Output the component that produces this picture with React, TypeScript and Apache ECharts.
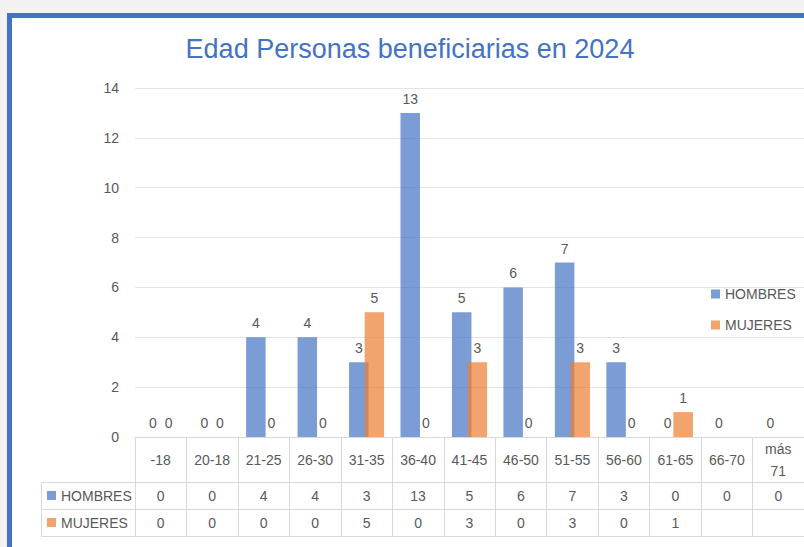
import React, { useEffect, useRef } from "react";
import * as echarts from "echarts";

const categories = ["-18", "20-18", "21-25", "26-30", "31-35", "36-40", "41-45", "46-50", "51-55", "56-60", "61-65", "66-70", "más\n71"];
const hombres: (number | null)[] = [0, 0, 4, 4, 3, 13, 5, 6, 7, 3, 0, 0, 0];
const mujeres: (number | null)[] = [0, 0, 0, 0, 5, 0, 3, 0, 3, 0, 1, null, null];
const seriesNames = ["HOMBRES", "MUJERES"];
const yTicks = { min: 0, max: 14, interval: 2 };

const BLUE = "#4472C4";
const BLUE_A = "rgba(68,114,196,0.7)";
const ORANGE_A = "rgba(237,125,49,0.7)";
const TEXT = "#595959";
const LINE = "#d9d9d9";
const FONT = "'Liberation Sans', Arial, sans-serif";

const fmt = (v: number | null) => (v === null || v === undefined ? "" : String(v));

export default function App() {
  const ref = useRef<HTMLDivElement>(null);
  useEffect(() => {
    if (!ref.current) return;
    const chart = echarts.init(ref.current, undefined, { renderer: "svg" });
    const tableAxis = (offset: number, tickLen: number, values: (number | null)[] | null, margin: number, showLabel = true, showTick = true) => ({
      type: "category",
      data: categories,
      position: "bottom",
      offset,
      axisLine: { show: true, lineStyle: { color: LINE, width: 1 } },
      axisTick: { show: showTick, interval: 0, length: tickLen, lineStyle: { color: LINE, width: 1 } },
      axisLabel: {
        show: showLabel,
        interval: 0,
        margin,
        verticalAlign: "middle",
        color: TEXT,
        fontSize: 14,
        fontFamily: FONT,
        lineHeight: 22,
        formatter: values ? (_v: string, i: number) => fmt(values[i]) : undefined,
      },
      splitLine: { show: false },
    });
    const barLabel = { show: true, position: "top", distance: 7, color: TEXT, fontSize: 14, fontFamily: FONT };
    const option: any = {
      animation: false,
      textStyle: { fontFamily: FONT },
      grid: { left: 135, top: 88, width: 672, height: 349, containLabel: false },
      legend: {
        orient: "vertical",
        left: 711,
        top: 287,
        padding: 0,
        itemWidth: 9,
        itemHeight: 9,
        itemGap: 17,
        icon: "rect",
        textStyle: { color: TEXT, fontSize: 14, fontFamily: FONT },
        data: seriesNames,
      },
      xAxis: [
        tableAxis(0, 45, null, 23),
        tableAxis(45, 27, hombres, 14),
        tableAxis(72, 27, mujeres, 14),
        tableAxis(99, 0, null, 0, false, false),
      ],
      yAxis: {
        type: "value",
        min: yTicks.min,
        max: yTicks.max,
        interval: yTicks.interval,
        axisLine: { show: false },
        axisTick: { show: false },
        axisLabel: { margin: 16, color: TEXT, fontSize: 14, fontFamily: FONT },
        splitLine: { lineStyle: { color: "#e4e4e4", width: 1 } },
      },
      series: [
        {
          name: seriesNames[0],
          type: "bar",
          xAxisIndex: 0,
          data: hombres,
          barWidth: 19.5,
          barGap: "-20%",
          itemStyle: { color: BLUE_A },
          label: barLabel,
        },
        {
          name: seriesNames[1],
          type: "bar",
          xAxisIndex: 0,
          data: mujeres,
          barWidth: 19.5,
          barGap: "-20%",
          itemStyle: { color: ORANGE_A },
          label: barLabel,
        },
      ],
      graphic: [
        { type: "rect", z: -100, silent: true, shape: { x: 0, y: 0, width: 804, height: 547 }, style: { fill: "#f2f2f2" } },
        { type: "rect", z: -99, silent: true, shape: { x: 12, y: 18, width: 800, height: 540 }, style: { fill: "#ffffff" } },
        { type: "rect", z: -98, silent: true, shape: { x: 7, y: 13, width: 800, height: 5 }, style: { fill: BLUE } },
        { type: "rect", z: -98, silent: true, shape: { x: 7, y: 13, width: 5, height: 540 }, style: { fill: BLUE } },
        {
          type: "text",
          z: 10,
          x: 410,
          y: 49,
          style: { text: "Edad Personas beneficiarias en 2024", fill: BLUE, fontSize: 27, fontFamily: FONT, align: "center", verticalAlign: "middle" },
        },
        { type: "line", z: 10, shape: { x1: 41, y1: 482.5, x2: 135, y2: 482.5 }, style: { stroke: LINE, lineWidth: 1 } },
        { type: "line", z: 10, shape: { x1: 41, y1: 509.5, x2: 135, y2: 509.5 }, style: { stroke: LINE, lineWidth: 1 } },
        { type: "line", z: 10, shape: { x1: 41, y1: 536.5, x2: 135, y2: 536.5 }, style: { stroke: LINE, lineWidth: 1 } },
        { type: "line", z: 10, shape: { x1: 41.5, y1: 482, x2: 41.5, y2: 537 }, style: { stroke: LINE, lineWidth: 1 } },
        { type: "rect", z: 10, shape: { x: 47, y: 491, width: 9, height: 9 }, style: { fill: BLUE_A } },
        { type: "rect", z: 10, shape: { x: 47, y: 518, width: 9, height: 9 }, style: { fill: ORANGE_A } },
        { type: "text", z: 10, x: 61, y: 496, style: { text: seriesNames[0], fill: TEXT, fontSize: 14, fontFamily: FONT, verticalAlign: "middle" } },
        { type: "text", z: 10, x: 61, y: 523, style: { text: seriesNames[1], fill: TEXT, fontSize: 14, fontFamily: FONT, verticalAlign: "middle" } },
      ],
    };
    chart.setOption(option);
    return () => chart.dispose();
  }, []);
  return <div ref={ref} style={{ position: "absolute", left: 0, top: 0, width: 804, height: 547 }} />;
}
